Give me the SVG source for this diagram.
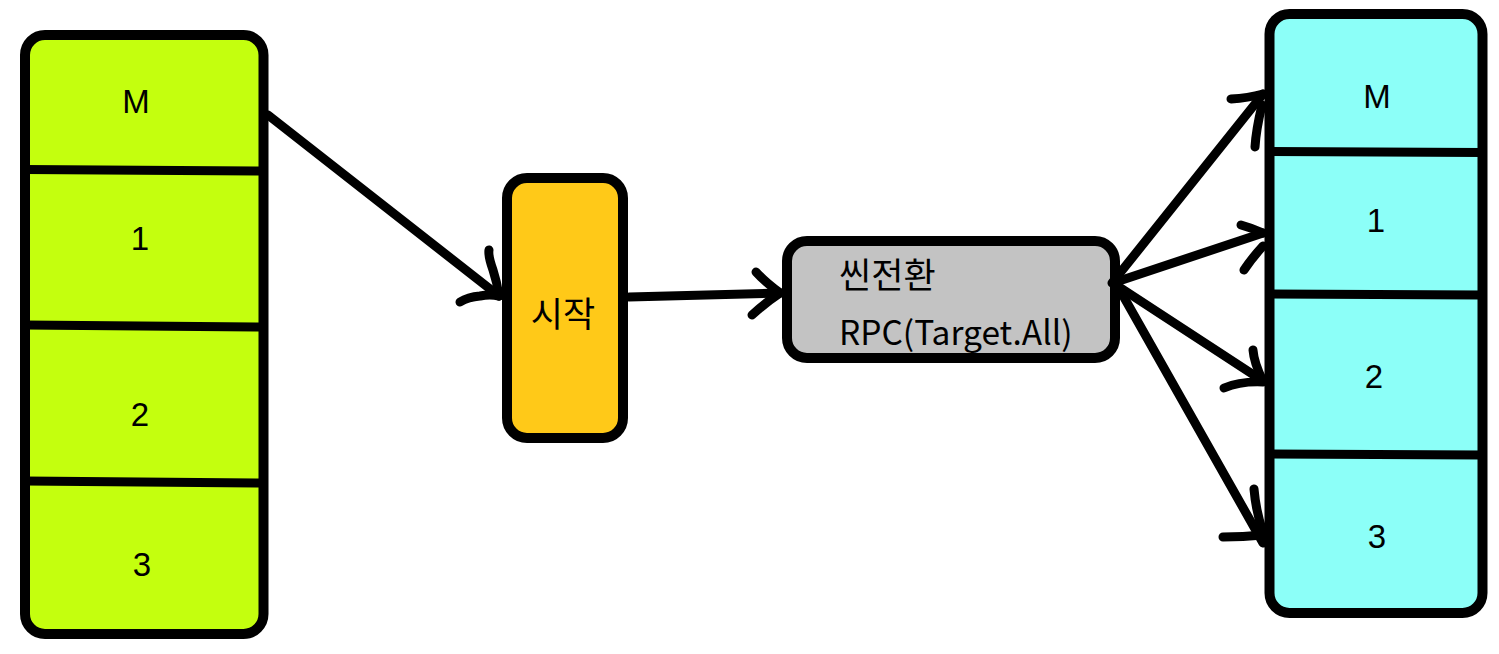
<svg xmlns="http://www.w3.org/2000/svg" width="1499" height="654" viewBox="0 0 1499 654">
<style>
.box{stroke:#000;stroke-width:10;}
.div{stroke:#000;stroke-width:9;fill:none;}
.lbl{font-family:"Liberation Sans","Noto Sans CJK KR",sans-serif;font-size:33px;fill:#000;text-anchor:middle;}
.kr{font-family:"Noto Sans CJK KR","Liberation Sans",sans-serif;font-size:33px;fill:#000;}
.edge{stroke:#000;stroke-width:9;fill:none;stroke-linecap:round;stroke-linejoin:round;}
</style>
<rect width="1499" height="654" fill="#fff"/>
<g id="left-stack">
<rect class="box" x="25" y="35" width="238.5" height="599" rx="20" fill="#c4ff0e"/>
<path class="div" d="M25 169.5 L263 171 M25 325 L263 327 M25 481 L263 483"/>
<text class="lbl" x="136" y="113">M</text>
<text class="lbl" x="140" y="250">1</text>
<text class="lbl" x="140" y="426">2</text>
<text class="lbl" x="142" y="576">3</text>
</g>
<g id="start">
<rect class="box" x="507" y="178" width="116" height="260" rx="20" fill="#ffc918"/>
<text class="kr" x="563" y="327" text-anchor="middle" style="font-size:35px">시작</text>
</g>
<g id="scene">
<rect class="box" x="787" y="241" width="328" height="117" rx="20" fill="#c3c3c3"/>
<text class="kr" x="839" y="288" style="font-size:35px">씬전환</text>
<text class="kr" x="839" y="345" style="font-size:33.5px">RPC(Target.All)</text>
</g>
<g id="right-stack">
<rect class="box" x="1269.5" y="14" width="213" height="599" rx="20" fill="#8cfff8"/>
<path class="div" d="M1269 151.5 L1482 152.5 M1269 294 L1482 295 M1269 454 L1482 455"/>
<text class="lbl" x="1377" y="108">M</text>
<text class="lbl" x="1376" y="232">1</text>
<text class="lbl" x="1374" y="388">2</text>
<text class="lbl" x="1377" y="548">3</text>
</g>
<g id="connectors">
<path class="edge" d="M268 115 L499 296"/>
<path class="edge" d="M489 250 Q488 256 493 270 Q497 282 499 296"/>
<path class="edge" d="M460 302 Q468 297 480 296 Q490 294 499 296"/>
<path class="edge" d="M629 297 L780 293"/>
<path class="edge" d="M756 272 Q765 282 780 293"/>
<path class="edge" d="M752 315 Q765 303 780 293"/>
<path class="edge" d="M1112 283 L1263 94"/>
<path class="edge" d="M1231 99 Q1248 98 1263 94"/>
<path class="edge" d="M1255 147 Q1256 130 1262 105"/>
<path class="edge" d="M1113 283 L1263 233"/>
<path class="edge" d="M1241 225 Q1252 228 1263 233"/>
<path class="edge" d="M1244 270 Q1252 258 1263 246"/>
<path class="edge" d="M1113 283 L1263 381"/>
<path class="edge" d="M1253 350 Q1254 363 1263 381"/>
<path class="edge" d="M1224 388 Q1240 381 1263 382"/>
<path class="edge" d="M1117 285 L1263 543"/>
<path class="edge" d="M1254 489 Q1256 512 1263 532"/>
<path class="edge" d="M1223 537 Q1243 537 1263 535"/>
</g>
</svg>
